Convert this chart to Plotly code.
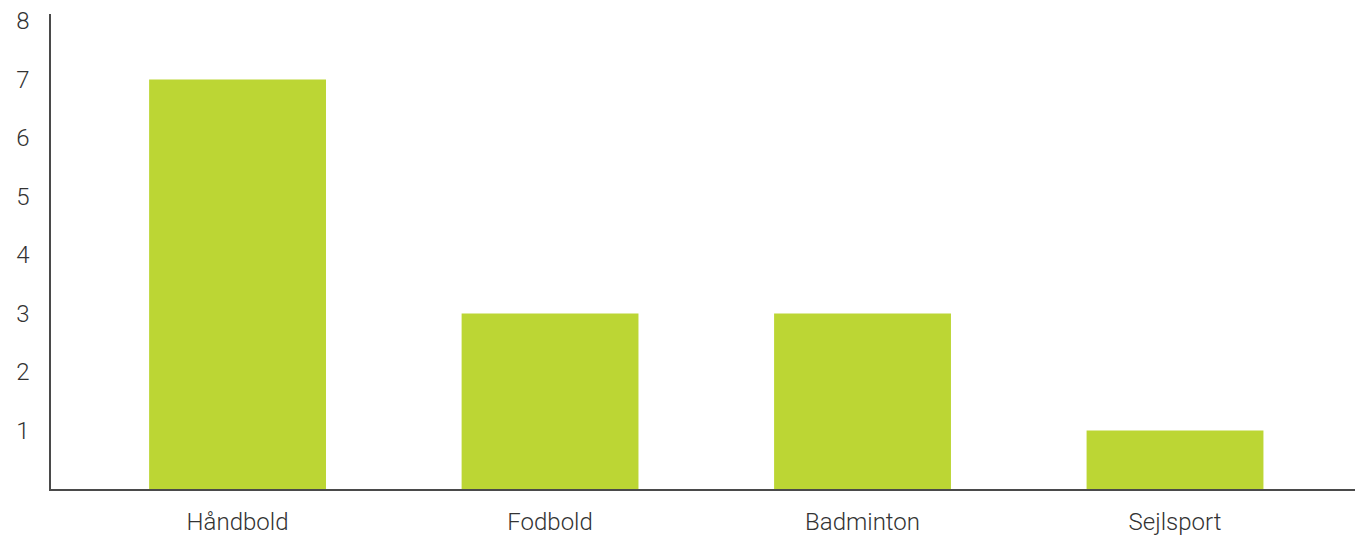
import plotly.graph_objects as go

categories = ["Håndbold", "Fodbold", "Badminton", "Sejlsport"]
values = [7, 3, 3, 1]
y_ticks = [1, 2, 3, 4, 5, 6, 7, 8]

fig = go.Figure()
fig.add_trace(go.Bar(
    x=categories, y=values,
    marker=dict(color="#BCD634", line=dict(width=0)),
    width=0.566,
))

font = dict(family="Roboto", size=24, color="#333333", weight=300)

fig.update_layout(
    width=1347, height=528,
    margin=dict(l=43, r=0, t=6, b=47, autoexpand=False),
    paper_bgcolor="white", plot_bgcolor="white",
    showlegend=False,
    font=font,
    xaxis=dict(
        range=[-0.597, 3.576], automargin=False,
        showline=True, linecolor="#4a4a4a", linewidth=1.5,
        showgrid=False, zeroline=False,
        ticks="", tickfont=font, ticklabelstandoff=10,
        ticklabeloverflow="allow",
    ),
    yaxis=dict(
        range=[0, 8.12], automargin=False,
        tickvals=y_ticks, ticktext=[str(v) for v in y_ticks],
        showline=True, linecolor="#4a4a4a", linewidth=1.5,
        showgrid=False, zeroline=False,
        ticks="", tickfont=font, ticklabelstandoff=15,
        ticklabeloverflow="allow",
    ),
)

fig.write_html("out.html")
